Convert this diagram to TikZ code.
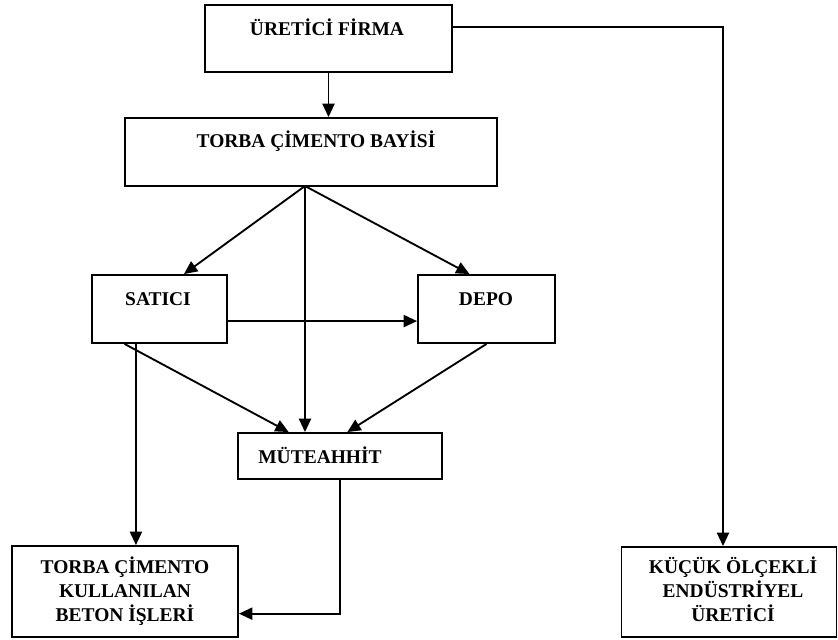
\documentclass[tikz,border=0pt]{standalone}
\usepackage{fontspec}
\setmainfont{Liberation Serif}
\usetikzlibrary{arrows.meta}

\begin{document}
\begin{tikzpicture}[x=0.75pt,y=-0.75pt,
 box/.style 2 args={draw,line width=1.4pt,minimum width=#1*0.75pt,minimum height=#2*0.75pt,inner sep=0pt},
 lbl/.style={font=\fontsize{14.6}{18}\selectfont\bfseries,align=center,inner sep=0pt,anchor=base},
 flow/.style={line width=1.4pt,-{Triangle[length=10pt,width=9pt]}}]
\useasboundingbox (0,0) rectangle (838,639);
\node[box={247}{67}] (firma) at (328.5,38.5) {};
\node[box={372}{68}] (bayi) at (311,152) {};
\node[box={135}{68}] (satici) at (159.5,309) {};
\node[box={137}{68}] (depo) at (486.5,309) {};
\node[box={204}{46}] (mute) at (340,456) {};
\node[box={226}{91}] (beton) at (125,591.5) {};
\node[box={215}{90}] (kucuk) at (729,592) {};
\node[lbl] (firmaL) at (327,35) {ÜRETİCİ FİRMA};
\node[lbl] (bayiL) at (316,147) {TORBA ÇİMENTO BAYİSİ};
\node[lbl] (saticiL) at (158,305) {SATICI};
\node[lbl] (depoL) at (486,305) {DEPO};
\node[lbl] (muteL) at (320,463) {MÜTEAHHİT};
\node[lbl] (betonL) at (125,621) {TORBA ÇİMENTO\\KULLANILAN\\BETON İŞLERİ};
\node[lbl] (kucukL) at (733,621) {KÜÇÜK ÖLÇEKLİ\\ENDÜSTRİYEL\\ÜRETİCİ};
\coordinate (hub) at (305,186); \coordinate (turn) at (723,27);
\draw[flow] (firma.south) -- (firma.south |- bayi.north);
\draw[flow] (firma.east |- turn) -- (turn) -- (turn |- kucuk.north);
\draw[flow] (hub) -- (satici.55);
\draw[flow] (hub) -- (depo.116);
\draw[flow] (hub) -- (hub |- mute.north);
\draw[flow] (satici.-10) -- (satici.-10 -| depo.west);
\draw[flow] (satici.225) -- (mute.155);
\draw[flow] (depo.south) -- (mute.73);
\draw[flow] (satici.236) -- (satici.236 |- beton.north);
\draw[flow] (mute.south) |- (beton.-11);
\end{tikzpicture}
\end{document}
